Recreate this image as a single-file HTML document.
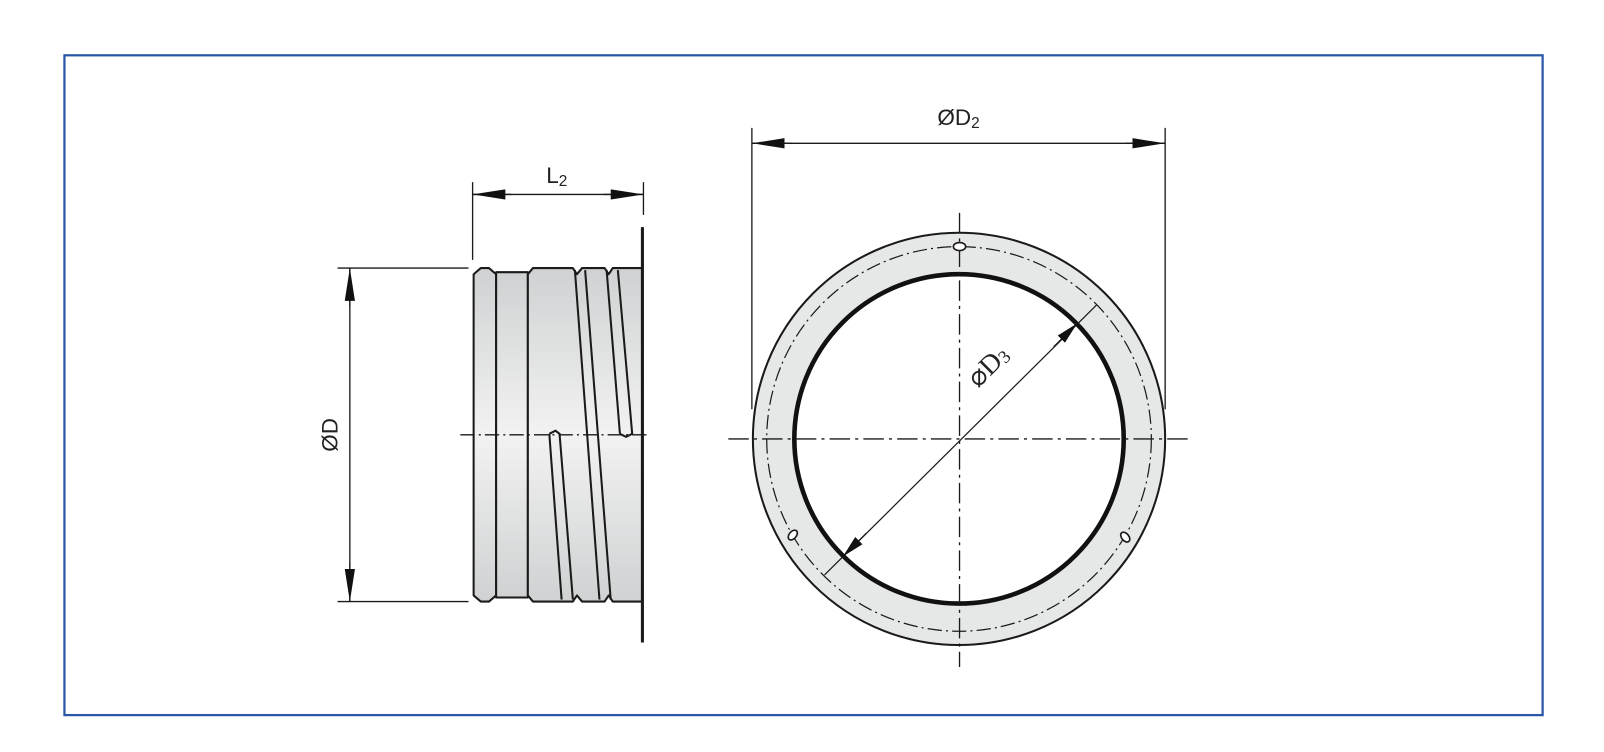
<!DOCTYPE html>
<html><head><meta charset="utf-8"><style>
html,body{margin:0;padding:0;background:#fff;}
svg{display:block;}
</style></head><body>
<svg width="1604" height="752" viewBox="0 0 1568 735" xmlns="http://www.w3.org/2000/svg">
<defs>
<linearGradient id="g" x1="0" y1="0" x2="0" y2="1">
<stop offset="0" stop-color="#cfd1d2"/><stop offset="0.5" stop-color="#f2f2f2"/><stop offset="1" stop-color="#cfd1d2"/>
</linearGradient>
<marker id="a" viewBox="0 0 32 10" refX="32" refY="5" markerWidth="32" markerHeight="10" markerUnits="userSpaceOnUse" orient="auto">
<path d="M0,0 L32,5 L0,10 z" fill="#111"/></marker>
<marker id="b" viewBox="0 0 22 10" refX="22" refY="5" markerWidth="22" markerHeight="10" markerUnits="userSpaceOnUse" orient="auto">
<path d="M0,0 L22,5 L0,10 z" fill="#111"/></marker>
</defs>
<rect x="63" y="54" width="1445" height="645" fill="#fff" stroke="#2a58a6" stroke-width="2.2"/>

<!-- LEFT VIEW -->
<g stroke="#1a1a1a" stroke-width="2" fill="url(#g)" stroke-linejoin="round">
<polygon points="463,268 470,262 478,262 485,268 485,582 478,588 470,588 463,582"/>
<rect x="485" y="266" width="31" height="318"/>
<path d="M516,268 L521,262 L560,262 L564,268 L569,262 L591,262 L595,268 L599,262 L628,262 L628,588 L599,588 L595,582 L591,588 L569,588 L564,582 L560,588 L521,588 L516,582 Z"/>
</g>
<g stroke="#1a1a1a" stroke-width="2" fill="none">
<line x1="562" y1="264" x2="586" y2="586"/>
<line x1="572" y1="264" x2="597" y2="586"/>
<line x1="593" y1="264" x2="606" y2="424"/>
<path d="M604,264 L618,424 L612,427 L606,424"/>
<path d="M537,424 L543,421 L547,424 L560,586"/>
<line x1="537" y1="424" x2="549" y2="586"/>
</g>
<line x1="628" y1="222" x2="628" y2="628" stroke="#1a1a1a" stroke-width="3"/>
<line x1="450" y1="425" x2="634" y2="425" stroke="#1a1a1a" stroke-width="1.3" stroke-dasharray="14,4,2,4"/>

<!-- L2 dim -->
<g stroke="#1a1a1a" stroke-width="1.3">
<line x1="462" y1="178" x2="462" y2="254"/>
<line x1="629" y1="178" x2="629" y2="210"/>
<line x1="462" y1="190" x2="629" y2="190"/>
<line x1="500" y1="190" x2="462" y2="190" marker-end="url(#a)"/>
<line x1="590" y1="190" x2="629" y2="190" marker-end="url(#a)"/>
</g>
<text x="534" y="179" font-family="Liberation Sans, sans-serif" font-size="22" fill="#222">L<tspan font-size="15" dy="3">2</tspan></text>

<!-- ØD dim -->
<g stroke="#1a1a1a" stroke-width="1.3">
<line x1="330" y1="262" x2="458" y2="262"/>
<line x1="330" y1="588" x2="458" y2="588"/>
<line x1="342" y1="262" x2="342" y2="588"/>
<line x1="342" y1="300" x2="342" y2="262" marker-end="url(#a)"/>
<line x1="342" y1="550" x2="342" y2="588" marker-end="url(#a)"/>
</g>
<text transform="translate(330,425) rotate(-90)" text-anchor="middle" font-family="Liberation Sans, sans-serif" font-size="22" fill="#222">ØD</text>

<!-- RIGHT VIEW -->
<circle cx="937.5" cy="429" r="181" fill="none" stroke="#e6e8e8" stroke-width="41"/>
<circle cx="937.5" cy="429" r="201.5" fill="none" stroke="#1a1a1a" stroke-width="2"/>
<circle cx="937.5" cy="429" r="161" fill="none" stroke="#111" stroke-width="4.5"/>
<circle cx="937.5" cy="429" r="188" fill="none" stroke="#1a1a1a" stroke-width="1.2" stroke-dasharray="14,4,2,4"/>
<g stroke="#1a1a1a" stroke-width="1.3" stroke-dasharray="20,5,3,5">
<line x1="712" y1="429" x2="1163" y2="429"/>
<line x1="938" y1="208" x2="938" y2="652"/>
</g>
<g stroke="#1a1a1a" stroke-width="1.6" fill="#fff">
<ellipse cx="938" cy="241" rx="6" ry="4"/>
<ellipse cx="775" cy="523" rx="3.5" ry="5.5" transform="rotate(40 775 523)"/>
<ellipse cx="1100" cy="525" rx="3.5" ry="5.5" transform="rotate(-40 1100 525)"/>
</g>
<!-- D3 -->
<g stroke="#1a1a1a" stroke-width="1.2">
<line x1="806" y1="562" x2="1072" y2="298"/>
<line x1="1030" y1="339" x2="1053" y2="316" marker-end="url(#b)"/>
<line x1="847" y1="521" x2="824" y2="544" marker-end="url(#b)"/>
</g>
<text transform="translate(972,364) rotate(-45)" text-anchor="middle" font-family="Liberation Serif, serif" font-size="27" fill="#222">⌀D<tspan font-size="18" dy="2">3</tspan></text>

<!-- D2 dim -->
<g stroke="#1a1a1a" stroke-width="1.3">
<line x1="735" y1="125" x2="735" y2="400"/>
<line x1="1139" y1="125" x2="1139" y2="400"/>
<line x1="735" y1="140" x2="1139" y2="140"/>
<line x1="775" y1="140" x2="735" y2="140" marker-end="url(#a)"/>
<line x1="1100" y1="140" x2="1139" y2="140" marker-end="url(#a)"/>
</g>
<text x="937" y="122" text-anchor="middle" font-family="Liberation Sans, sans-serif" font-size="22" fill="#222">ØD<tspan font-size="15" dy="3">2</tspan></text>
</svg>
</body></html>
